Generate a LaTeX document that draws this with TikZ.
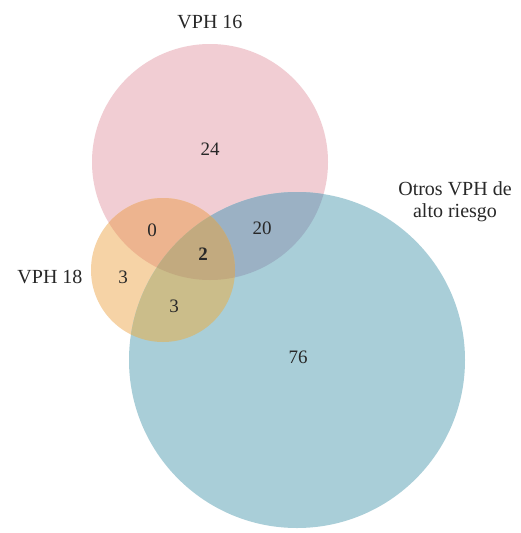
\documentclass[tikz,border=0pt]{standalone}
\usepackage{fontspec}
\setmainfont{Liberation Serif}
\definecolor{pinkA}{RGB}{241,205,211}
\definecolor{oranC}{RGB}{246,211,166}
\definecolor{blueB}{RGB}{169,206,216}
\definecolor{AC}{RGB}{237,180,143}
\definecolor{AB}{RGB}{155,177,196}
\definecolor{CB}{RGB}{203,189,138}
\definecolor{ABC}{RGB}{194,170,127}
\definecolor{txt}{RGB}{40,40,40}
\tikzset{
  lbl/.style={font=\fontsize{20}{22}\selectfont, text=txt, inner sep=0pt, align=center},
  num/.style={font=\fontsize{19}{21}\selectfont, text=txt, inner sep=0pt}
}
\begin{document}
\begin{tikzpicture}[x=1pt,y=-1pt]
\useasboundingbox (0,0) rectangle (520,533);
\fill[white] (0,0) rectangle (520,533);
\def\circA{(210,162) circle[radius=118]}
\def\circC{(163,270) circle[radius=72]}
\def\circB{(297,360) circle[radius=168]}
\fill[pinkA] \circA;
\fill[oranC] \circC;
\fill[blueB] \circB;
\begin{scope}\clip \circA; \fill[AC] \circC; \end{scope}
\begin{scope}\clip \circA; \fill[AB] \circB; \end{scope}
\begin{scope}\clip \circC; \fill[CB] \circB; \end{scope}
\begin{scope}\clip \circA; \clip \circC; \fill[ABC] \circB; \end{scope}
\node[lbl] (tA) at (210,22) {VPH 16};
\node[lbl] (tC) at (50,277) {VPH 18};
\node[lbl] (tB) at (455,202) {Otros VPH de\\alto riesgo};
\node[num] (n24) at (210,149) {24};
\node[num] (n0) at (152,230) {0};
\node[num] (n20) at (262,228) {20};
\node[num] (n2) at (203,254) {\bfseries 2};
\node[num] (n3a) at (123,277) {3};
\node[num] (n3b) at (174,306) {3};
\node[num] (n76) at (298,357) {76};
\end{tikzpicture}
\end{document}
